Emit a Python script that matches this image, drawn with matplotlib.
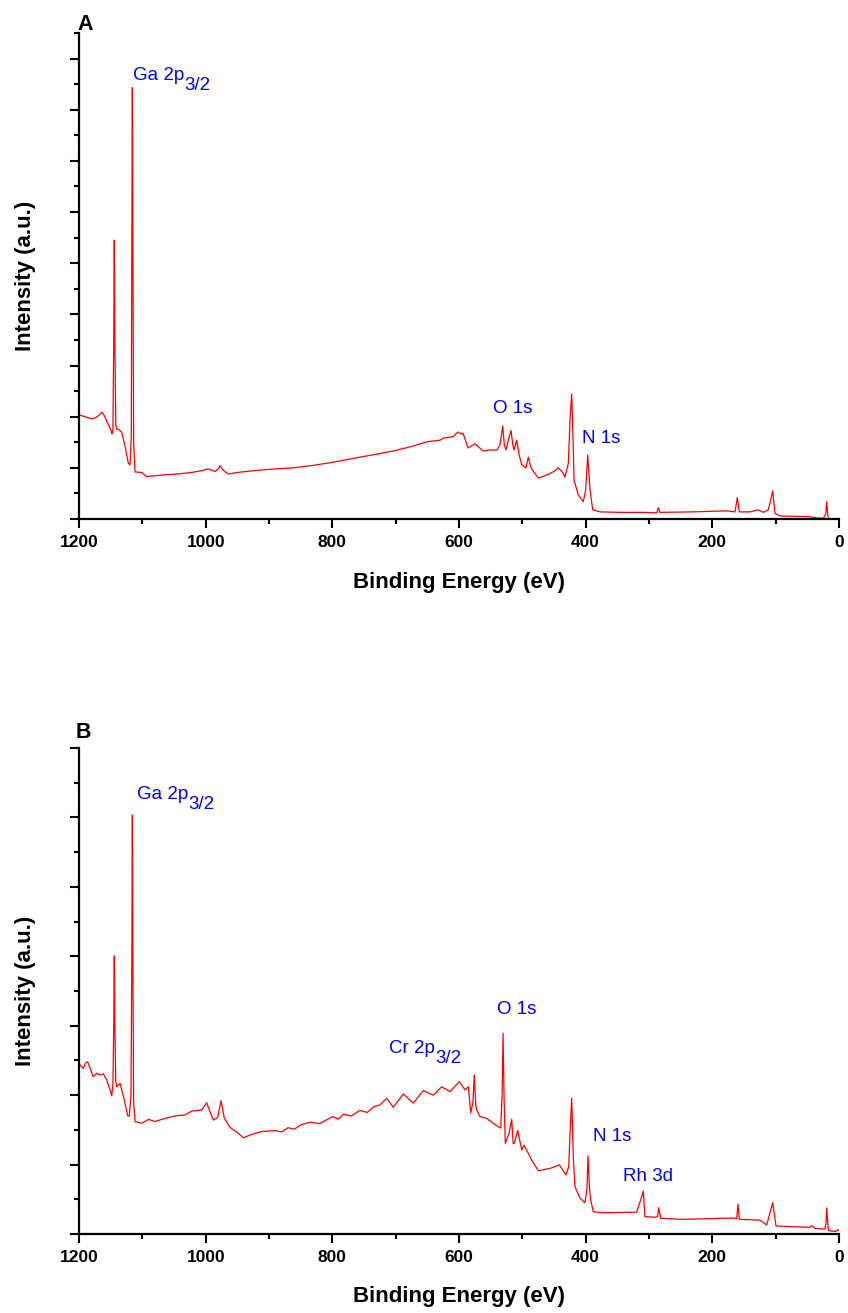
import numpy as np
import matplotlib
matplotlib.use("Agg")
import matplotlib.pyplot as plt
from matplotlib.ticker import MultipleLocator

plt.rcParams['font.family'] = ['Liberation Sans', 'DejaVu Sans']

# spectrum A: binding energy (eV) and intensity (a.u.)
energy_a = [1200, 1198.4, 1190.5, 1184, 1177.9, 1170, 1163.7, 1160, 1155.8, 1150,
            1147.9, 1146.5, 1145.2, 1144.3, 1143.4, 1142, 1140.5, 1136, 1132.6, 1127,
            1122.2, 1119.5, 1117.5, 1116.6, 1115.8, 1115.0, 1113.8, 1111.6, 1101.0, 1093.1,
            1085, 1069.4, 1045, 1022.1, 1005, 996.3, 985.3, 980, 977.4, 972,
            964.3, 955, 943.1, 920, 890.5, 862.1, 830, 798.9, 765, 729.5,
            700, 677.4, 650.5, 630.0, 625.3, 609.5, 601.6, 596, 593.7, 585.8,
            574.7, 562.1, 552, 540.0, 535.3, 531.0, 528.5, 525.8, 521, 517.9,
            515, 513.2, 508.9, 505, 501.0, 494.2, 490.6, 487.5, 485.3, 474.8,
            461.6, 450, 443.2, 437, 432.7, 427.4, 424.5, 422.1, 420, 418.4,
            411.7, 403.8, 400.0, 396.8, 393.2, 388.9, 377.4, 345.8, 310, 287.9,
            285.3, 282.7, 230, 177.3, 164.2, 160.6, 157.5, 140.6, 127.5, 119.5,
            111.7, 107.9, 104.7, 101.1, 93.2, 60, 45.8, 37.9, 24.8, 21,
            19.4, 17.5, 16.9, 9.1, 1.2, 0]
counts_a = [2.03, 2.03, 2.00, 1.97, 1.96, 2.01, 2.09, 2.02, 1.90, 1.75,
            1.66, 1.75, 3.5, 5.45, 3.5, 1.85, 1.76, 1.74, 1.70, 1.40,
            1.09, 1.06, 1.6, 5.5, 8.43, 5.5, 1.5, 0.92, 0.91, 0.83,
            0.84, 0.86, 0.88, 0.91, 0.95, 0.98, 0.93, 0.98, 1.04, 0.95,
            0.88, 0.90, 0.92, 0.95, 0.98, 1.00, 1.05, 1.11, 1.19, 1.27,
            1.34, 1.41, 1.51, 1.54, 1.58, 1.61, 1.70, 1.66, 1.68, 1.39,
            1.47, 1.33, 1.35, 1.35, 1.45, 1.82, 1.45, 1.35, 1.6, 1.73,
            1.45, 1.35, 1.54, 1.25, 1.06, 1.00, 1.21, 1.05, 0.98, 0.80,
            0.86, 0.93, 1.00, 0.92, 0.82, 1.09, 2.0, 2.44, 1.6, 0.76,
            0.47, 0.34, 0.57, 1.25, 0.57, 0.18, 0.14, 0.13, 0.13, 0.12,
            0.22, 0.13, 0.14, 0.16, 0.14, 0.42, 0.14, 0.14, 0.18, 0.13,
            0.18, 0.37, 0.55, 0.11, 0.06, 0.05, 0.045, 0.025, 0.014, 0.1,
            0.34, 0.05, 0.014, 0.0, 0.014, 0.01]

# spectrum B
energy_b = [1200, 1198.4, 1195, 1193.2, 1190, 1186.3, 1182.6, 1177.4, 1172.1, 1166,
            1161.6, 1156.3, 1151.1, 1148.4, 1146.5, 1145.2, 1144.3, 1143.4, 1142, 1140.5,
            1135.3, 1132.6, 1128.5, 1123.1, 1120.6, 1118, 1116.6, 1115.8, 1115.0, 1113.8,
            1111.6, 1101.0, 1090, 1080.0, 1064.2, 1048.4, 1032.6, 1022.1, 1006.3, 998.4,
            993.2, 987.9, 981.0, 975.8, 970.6, 961.6, 948.5, 940.6, 927.3, 911.5,
            890.5, 880, 870, 860, 850, 835.3, 820, 800, 790, 782.7,
            770, 756.3, 745, 735, 724.7, 714.2, 703.8, 688.0,
            672.2, 656.4, 640.6, 627.4, 614.2, 599.6, 590.5, 585.3, 581.5, 578,
            575.9, 573.5, 572.1, 566.9, 556.3, 545.9, 538.0, 534.2, 532, 530.5,
            529, 526.9, 521, 516.8, 514.5, 512.7, 507.3, 501.0, 497.4, 485.2,
            474.8, 456.3, 441.7, 431.1, 426.8, 424.5, 422.1, 419.5, 416.9, 408.9,
            401.1, 398, 396.3, 394, 392.1, 388.0, 372.2, 319.5, 315.3, 311.6,
            309.1, 306.4, 290.5, 286.5, 284.7, 281.6, 245.9, 166.9, 161.6, 159.5,
            157.5, 124.8, 114.2, 107.9, 104.7, 99.5, 45.8, 43.2, 37.9, 22.3,
            20.5, 19.4, 16.9, 6.4, 1.2, 0]
counts_b = [4.87, 4.87, 4.80, 4.77, 4.92, 4.96, 4.77, 4.53, 4.63, 4.58,
            4.61, 4.44, 4.15, 3.98, 4.3, 6.0, 8.01, 6.0, 4.4, 4.24,
            4.34, 4.15, 3.86, 3.40, 3.40, 4.0, 8.0, 12.07, 8.0, 3.8,
            3.24, 3.19, 3.30, 3.24, 3.33, 3.40, 3.43, 3.54, 3.57, 3.78,
            3.52, 3.28, 3.36, 3.84, 3.33, 3.07, 2.90, 2.77, 2.87, 2.95,
            2.98, 2.94, 3.06, 3.02, 3.14, 3.22, 3.18, 3.38, 3.31, 3.45,
            3.40, 3.56, 3.50, 3.66, 3.72, 3.91, 3.65, 4.03,
            3.77, 4.13, 4.00, 4.24, 4.10, 4.39, 4.15, 4.24, 3.49, 3.8,
            4.58, 3.7, 3.57, 3.38, 3.33, 3.19, 3.09, 3.05, 4.0, 5.78,
            4.0, 2.61, 2.9, 3.30, 2.61, 2.61, 2.98, 2.42, 2.56, 2.13,
            1.82, 1.89, 1.99, 1.70, 1.94, 3.0, 3.91, 2.2, 1.36, 1.03,
            0.90, 1.3, 2.25, 1.3, 0.98, 0.64, 0.61, 0.63, 0.86, 1.07,
            1.24, 0.50, 0.48, 0.5, 0.76, 0.45, 0.42, 0.46, 0.44, 0.86,
            0.42, 0.40, 0.26, 0.69, 0.90, 0.23, 0.19, 0.24, 0.16, 0.14,
            0.3, 0.75, 0.10, 0.07, 0.12, 0.1]

# peak labels: (text, subscript, energy, intensity)
labels_a = [("Ga 2p", "3/2", 1114.3, 8.58),
            ("O 1s", "", 546.8, 2.07),
            ("N 1s", "", 406.3, 1.49)]
labels_b = [("Ga 2p", "3/2", 1108.9, 12.53),
            ("Cr 2p", "3/2", 710.1, 5.21),
            ("O 1s", "", 540.5, 6.34),
            ("N 1s", "", 387.9, 2.69),
            ("Rh 3d", "", 340.6, 1.54)]


def style_axis(ax, ymax, ymajor):
    ax.set_xlim(1200, 0)
    ax.set_ylim(0, ymax)
    for side in ['top', 'right']:
        ax.spines[side].set_visible(False)
    for side in ['left', 'bottom']:
        ax.spines[side].set_linewidth(1.6)
    ax.xaxis.set_major_locator(MultipleLocator(200))
    ax.xaxis.set_minor_locator(MultipleLocator(100))
    ax.yaxis.set_major_locator(MultipleLocator(ymajor))
    ax.yaxis.set_minor_locator(MultipleLocator(ymajor / 2))
    ax.tick_params(which='major', direction='out', length=6.5, width=1.5, labelsize=12.5, pad=5)
    ax.tick_params(which='minor', direction='out', length=3.5, width=1.5)
    ax.tick_params(axis='y', which='both', labelleft=False)
    for lab in ax.get_xticklabels():
        lab.set_fontweight('bold')
    ax.set_xlabel("Binding Energy (eV)", fontsize=16, fontweight='bold')
    ax.xaxis.set_label_coords(0.5, -0.108)
    ax.set_ylabel("Intensity (a.u.)", fontsize=16, fontweight='bold')
    ax.yaxis.set_label_coords(-0.057, 0.5)


def add_labels(ax, labels):
    for txt, sub, e, y in labels:
        t = ax.text(e, y, txt, color='#0000ff', fontsize=13.5, ha='left', va='baseline')
        if sub:
            ax.annotate(sub, xy=(1, 0), xycoords=t, xytext=(0, -4.2),
                        textcoords='offset points', color='#0000ff', fontsize=13.5,
                        ha='left', va='baseline')


fig = plt.figure(figsize=(8.48, 13.13), dpi=100)
ax1 = fig.add_axes([0.0932, 0.6047, 0.8962, 0.3702])
ax2 = fig.add_axes([0.0932, 0.0602, 0.8962, 0.3701])

ax1.plot(energy_a, counts_a, color='#ff0000', lw=0.9)
style_axis(ax1, 9.5, 1)
add_labels(ax1, labels_a)

ax2.plot(energy_b, counts_b, color='#ff0000', lw=0.9)
style_axis(ax2, 14, 2)
add_labels(ax2, labels_b)

fig.text(0.091, 1 - 30 / 1313, "A", fontsize=15.5, fontweight='bold', ha='left', va='baseline')
fig.text(0.089, 1 - 738.5 / 1313, "B", fontsize=15.5, fontweight='bold', ha='left', va='baseline')

fig.savefig("out.png", dpi=100)
